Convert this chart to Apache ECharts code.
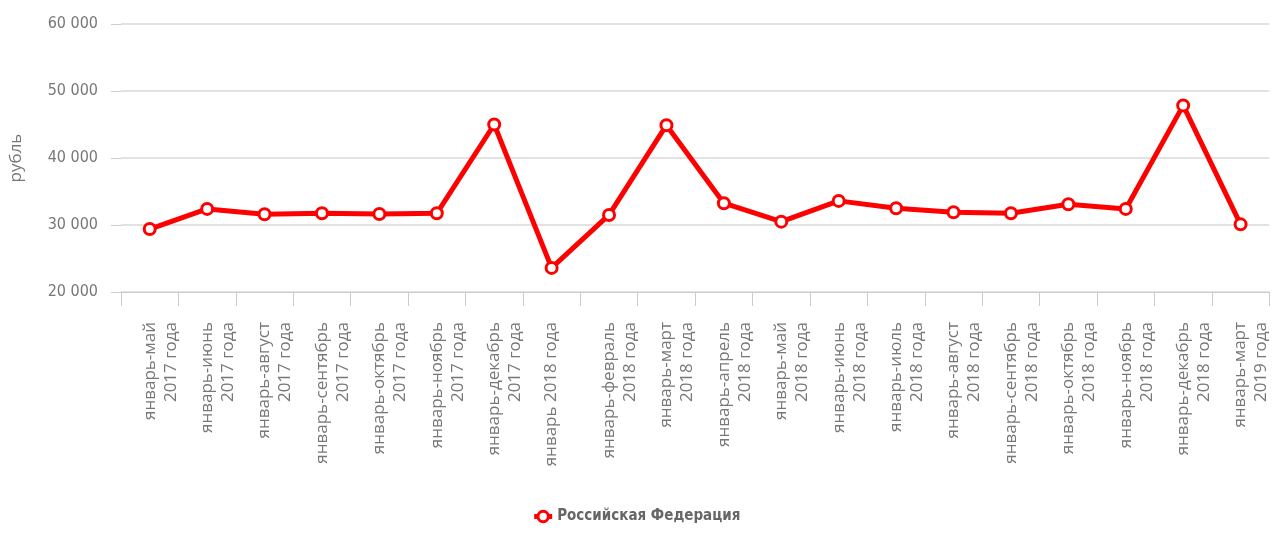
<!DOCTYPE html>
<html><head><meta charset="utf-8">
<script src="https://cdn.jsdelivr.net/npm/echarts@6/dist/echarts.min.js"></script>
<style>html,body{margin:0;padding:0;background:#fff}#c{width:1272px;height:534px}</style>
</head><body><div id="c"></div>
<script>
const categories = [
  'январь-май\n2017 года','январь-июнь\n2017 года','январь-август\n2017 года','январь-сентябрь\n2017 года',
  'январь-октябрь\n2017 года','январь-ноябрь\n2017 года','январь-декабрь\n2017 года','январь 2018 года',
  'январь-февраль\n2018 года','январь-март\n2018 года','январь-апрель\n2018 года','январь-май\n2018 года',
  'январь-июнь\n2018 года','январь-июль\n2018 года','январь-август\n2018 года','январь-сентябрь\n2018 года',
  'январь-октябрь\n2018 года','январь-ноябрь\n2018 года','январь-декабрь\n2018 года','январь-март\n2019 года'
];
const seriesName = 'Российская Федерация';
const values = [29400, 32400, 31600, 31750, 31650, 31750, 45000, 23600, 31500, 44900, 33250, 30500,
  33600, 32500, 31900, 31750, 33100, 32400, 47850, 30100];
const yMin = 20000, yMax = 60000, yStep = 10000;

const narrow = '"DejaVu Sans Condensed","Liberation Sans Narrow",sans-serif';
const chart = echarts.init(document.getElementById('c'));
chart.setOption({
  animation: false,
  grid: { left: 118, right: 2, top: 24, bottom: 242 },
  legend: {
    bottom: 5, left: 'center', itemWidth: 18, itemHeight: 13, itemGap: 6,
    lineStyle: { width: 5 },
    itemStyle: { borderWidth: 3 },
    textStyle: { fontFamily: narrow, fontWeight: 'bold', fontSize: 15, color: '#666' },
    data: [seriesName]
  },
  xAxis: {
    type: 'category', data: categories, boundaryGap: true,
    axisLine: { lineStyle: { color: '#ccc' } },
    axisTick: { show: true, length: 14, lineStyle: { color: '#ccc' } },
    axisLabel: {
      rotate: 90, interval: 0, margin: 30, color: '#777',
      fontFamily: '"Open Sans",sans-serif', fontSize: 17, lineHeight: 21,
      formatter: v => (v.indexOf('\n') >= 0 ? '\n' + v : v)
    }
  },
  yAxis: {
    type: 'value', min: yMin, max: yMax, interval: yStep,
    name: 'рубль', nameLocation: 'middle', nameGap: 96, nameRotate: 90,
    nameTextStyle: { color: '#777', fontFamily: '"Open Sans",sans-serif', fontSize: 17 },
    axisLine: { show: false },
    axisTick: { show: true, length: 10, lineStyle: { color: '#ccc' } },
    splitLine: { lineStyle: { color: '#d9d9d9', width: 1.5 } },
    axisLabel: {
      margin: 23, color: '#777', fontSize: 16,
      fontFamily: narrow,
      formatter: v => String(v).replace(/\B(?=(\d{3})+(?!\d))/g, ' ')
    }
  },
  series: [{
    name: seriesName, type: 'line', data: values,
    symbol: 'circle', symbolSize: 11, showAllSymbol: true,
    lineStyle: { color: '#ff0000', width: 5 },
    itemStyle: { color: '#fff', borderColor: '#ff0000', borderWidth: 3 }
  }]
});
</script></body></html>
